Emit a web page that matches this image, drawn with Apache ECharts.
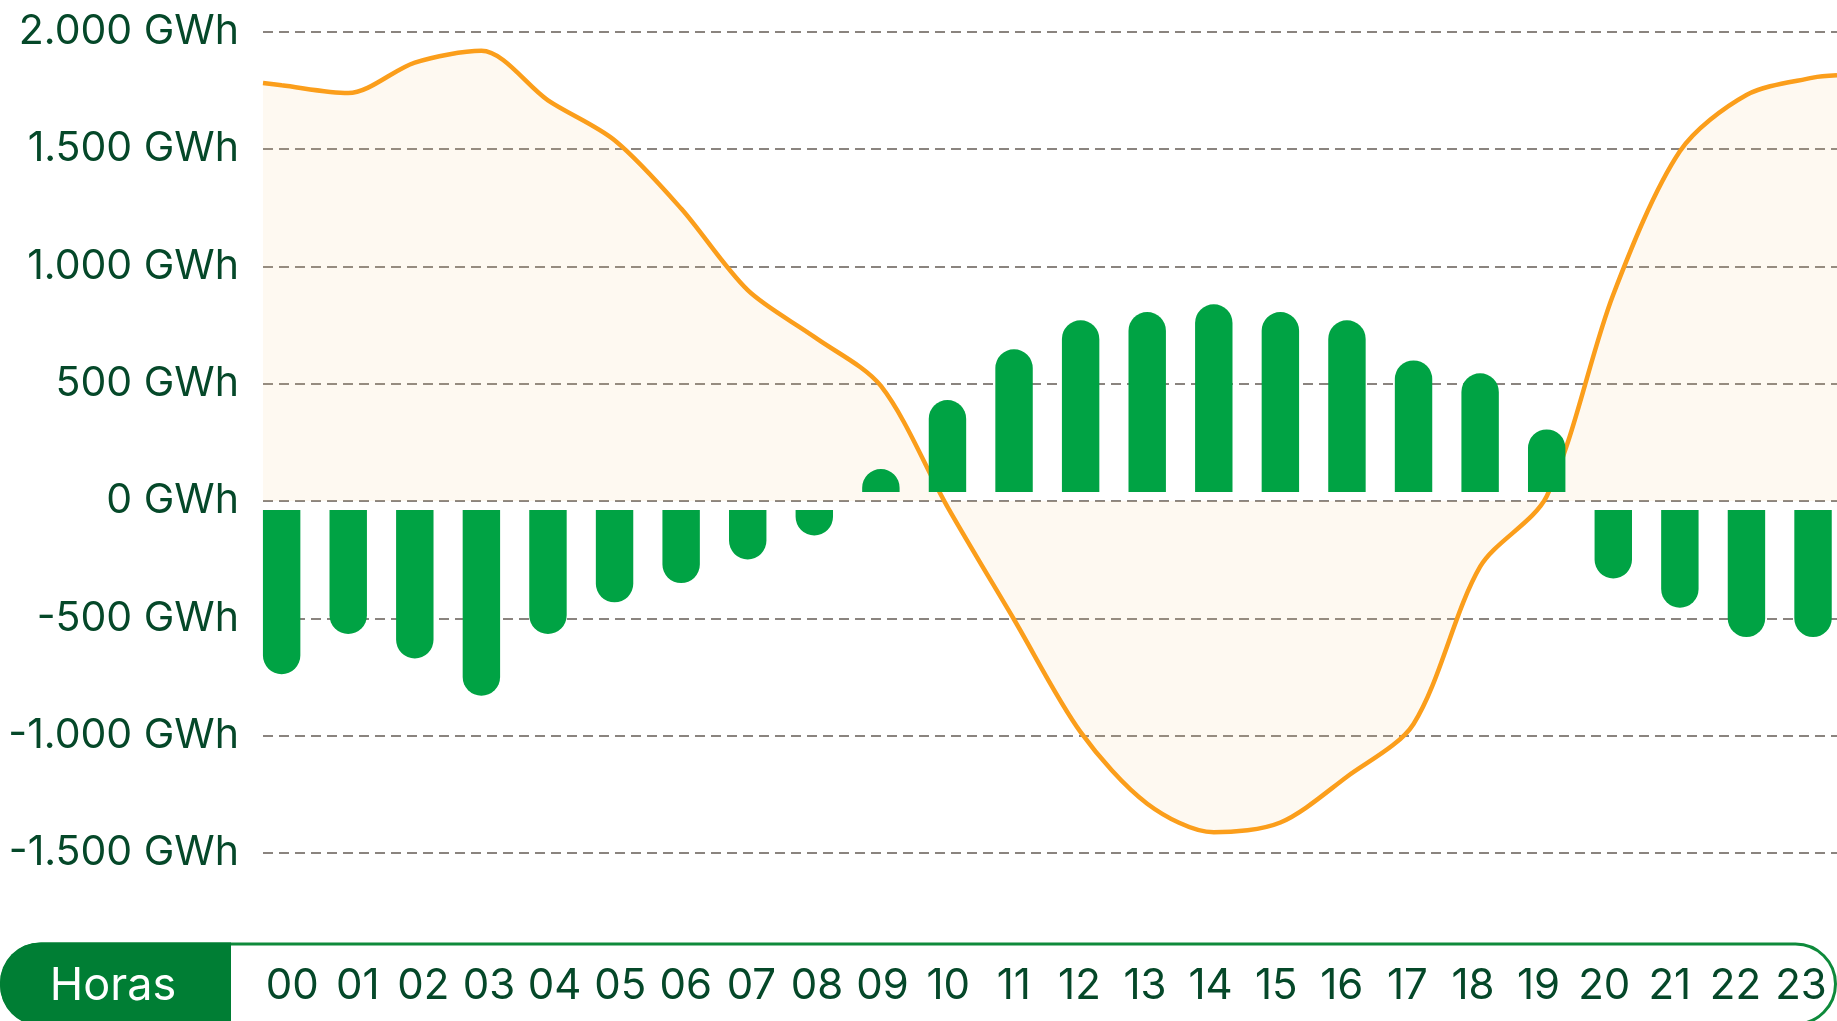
<!DOCTYPE html>
<html>
<head>
<meta charset="utf-8">
<script src="https://cdn.jsdelivr.net/npm/echarts@6/dist/echarts.min.js"></script>
<style>
  html, body { margin: 0; padding: 0; background: #fff; }
  #balance { width: 1837px; height: 1021px; }
</style>
</head>
<body>
<div id="balance"></div>
<script>
// horas del día
const hours = ['00', '01', '02', '03', '04', '05', '06', '07', '08', '09', '10', '11',
               '12', '13', '14', '15', '16', '17', '18', '19', '20', '21', '22', '23'];

// barras verdes (GWh por hora)
const barValues = [-738, -567, -671, -830, -567, -432, -350, -249, -147, 136, 430, 646,
                   770, 805, 838, 805, 770, 599, 544, 305, -330, -455, -580, -580];

// curva naranja, un punto por hora
const lineValues = [1771, 1738, 1868, 1918, 1707, 1537, 1246, 898, 699, 490, -25, -505,
                    -985, -1290, -1412, -1370, -1175, -950, -280, 20, 880, 1490, 1730, 1804];
// valor de la curva en los bordes izquierdo y derecho del gráfico
const lineEdgeValues = [1781, 1814];

// eje vertical
const yTicks = [-1500, -1000, -500, 0, 500, 1000, 1500, 2000];
const yTickLabels = ['-1.500 GWh', '-1.000 GWh', '-500 GWh', '0 GWh',
                     '500 GWh', '1.000 GWh', '1.500 GWh', '2.000 GWh'];

const X_MIN = -0.28;
const X_MAX = 23.36;
const BAR_GAP = 9;        // hueco entre la barra y la línea de 0
const FONT = 'Inter, "Noto Sans", sans-serif';
const TEXT_COLOR = '#054829';

const lineData = [[X_MIN, lineEdgeValues[0]]]
  .concat(lineValues.map((v, i) => [i, v]))
  .concat([[X_MAX, lineEdgeValues[1]]]);
const barData = barValues.map((v, i) => [i, v]);

function renderBar(params, api) {
  const hour = api.value(0);
  const v = api.value(1);
  const base = api.coord([hour, 0]);
  const tip = api.coord([hour, v]);
  const w = api.size([1, 0])[0] * 0.562;
  const r = w / 2;
  let y, h, radius;
  if (v >= 0) {
    y = tip[1];
    h = base[1] - BAR_GAP - tip[1];
    radius = [r, r, 0, 0];
  } else {
    y = base[1] + BAR_GAP;
    h = tip[1] - y;
    radius = [0, 0, r, r];
  }
  return {
    type: 'rect',
    shape: { x: base[0] - w / 2, y: y, width: w, height: Math.max(h, 0), r: radius },
    style: { fill: '#00A344' }
  };
}

const chart = echarts.init(document.getElementById('balance'));
chart.setOption({
  animation: false,
  grid: [
    { left: 263, right: 0, top: 31.6, bottom: 168 },
    { left: 259.4, width: 1574.4, top: 985, height: 1 }
  ],
  xAxis: [
    { type: 'value', gridIndex: 0, min: X_MIN, max: X_MAX, show: false },
    {
      type: 'category', gridIndex: 1, data: hours,
      axisLine: { show: false }, axisTick: { show: false },
      axisLabel: {
        margin: 0, verticalAlign: 'middle', color: TEXT_COLOR,
        fontFamily: FONT, fontSize: 42, interval: 0
      }
    }
  ],
  yAxis: [
    {
      type: 'value', gridIndex: 0, min: -1500, max: 2000, interval: 500,
      axisLine: { show: false }, axisTick: { show: false },
      axisLabel: {
        margin: 24, color: TEXT_COLOR, fontFamily: FONT, fontSize: 41,
        formatter: (v) => yTickLabels[yTicks.indexOf(v)]
      },
      splitLine: { lineStyle: { color: '#8A847F', width: 2, type: [10, 6] } }
    },
    { type: 'value', gridIndex: 1, show: false }
  ],
  graphic: [
    {
      type: 'rect', z: -10,
      shape: { x: 1.5, y: 944, width: 1834, height: 80, r: 40 },
      style: { fill: '#fff', stroke: '#0E8A3B', lineWidth: 3 }
    },
    {
      type: 'rect', z: -9,
      shape: { x: 0, y: 942.5, width: 231, height: 83, r: [40, 0, 0, 40] },
      style: { fill: '#007E34' }
    },
    {
      type: 'text', z: 10, x: 113, y: 986,
      style: {
        text: 'Horas', fill: '#fff', font: '45px ' + FONT,
        align: 'center', verticalAlign: 'middle'
      }
    }
  ],
  series: [
    {
      type: 'line', xAxisIndex: 0, yAxisIndex: 0, z: 2,
      data: lineData, smooth: 0.3, showSymbol: false,
      lineStyle: { color: '#FB9E1B', width: 4.5 },
      areaStyle: { color: 'rgba(245, 200, 140, 0.17)' }
    },
    {
      type: 'custom', xAxisIndex: 0, yAxisIndex: 0, z: 3,
      data: barData, renderItem: renderBar
    }
  ]
});
</script>
</body>
</html>
